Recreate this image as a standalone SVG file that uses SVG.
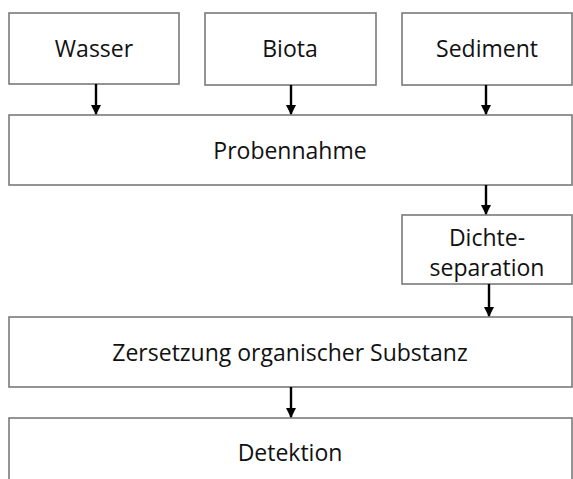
<svg xmlns="http://www.w3.org/2000/svg" width="573" height="479" viewBox="0 0 573 479">
<defs>
<style>
.box{fill:#fff;stroke:#7a7a7a;stroke-width:1.6}
.t{font-family:"Open Sans","Liberation Sans",sans-serif;font-size:23px;fill:#111;text-anchor:middle}
.c{stroke:#000;stroke-width:2.4;fill:none;marker-end:url(#ah)}
</style>
<marker id="ah" viewBox="0 0 10 10" refX="9" refY="5" markerWidth="4.2" markerHeight="4.2" markerUnits="strokeWidth" orient="auto">
<path d="M0,0 L10,5 L0,10 z" fill="#000"/>
</marker>
</defs>
<rect width="573" height="479" fill="#fff"/>
<g id="wasser"><rect class="box" x="9" y="13" width="170" height="71"/><text class="t" x="94" y="57">Wasser</text></g>
<g id="biota"><rect class="box" x="205" y="13" width="171" height="72"/><text class="t" x="290" y="57">Biota</text></g>
<g id="sediment"><rect class="box" x="402" y="13" width="170" height="72"/><text class="t" x="487" y="57">Sediment</text></g>
<g id="probennahme"><rect class="box" x="9" y="115" width="563" height="70"/><text class="t" x="290" y="159">Probennahme</text></g>
<g id="dichte"><rect class="box" x="402" y="215" width="170" height="69"/><text class="t" x="487" y="246">Dichte-</text><text class="t" x="487" y="276">separation</text></g>
<g id="zersetzung"><rect class="box" x="9" y="317" width="563" height="70"/><text class="t" x="290" y="361">Zersetzung organischer Substanz</text></g>
<g id="detektion"><rect class="box" x="9" y="418" width="563" height="80"/><text class="t" x="290" y="461">Detektion</text></g>
<g id="connectors">
<line class="c" x1="96" y1="84" x2="96" y2="114"/>
<line class="c" x1="291" y1="85" x2="291" y2="114"/>
<line class="c" x1="486" y1="85" x2="486" y2="114"/>
<line class="c" x1="486" y1="185" x2="486" y2="214"/>
<line class="c" x1="489" y1="284" x2="489" y2="316"/>
<line class="c" x1="291" y1="387" x2="291" y2="417"/>
</g>
</svg>
